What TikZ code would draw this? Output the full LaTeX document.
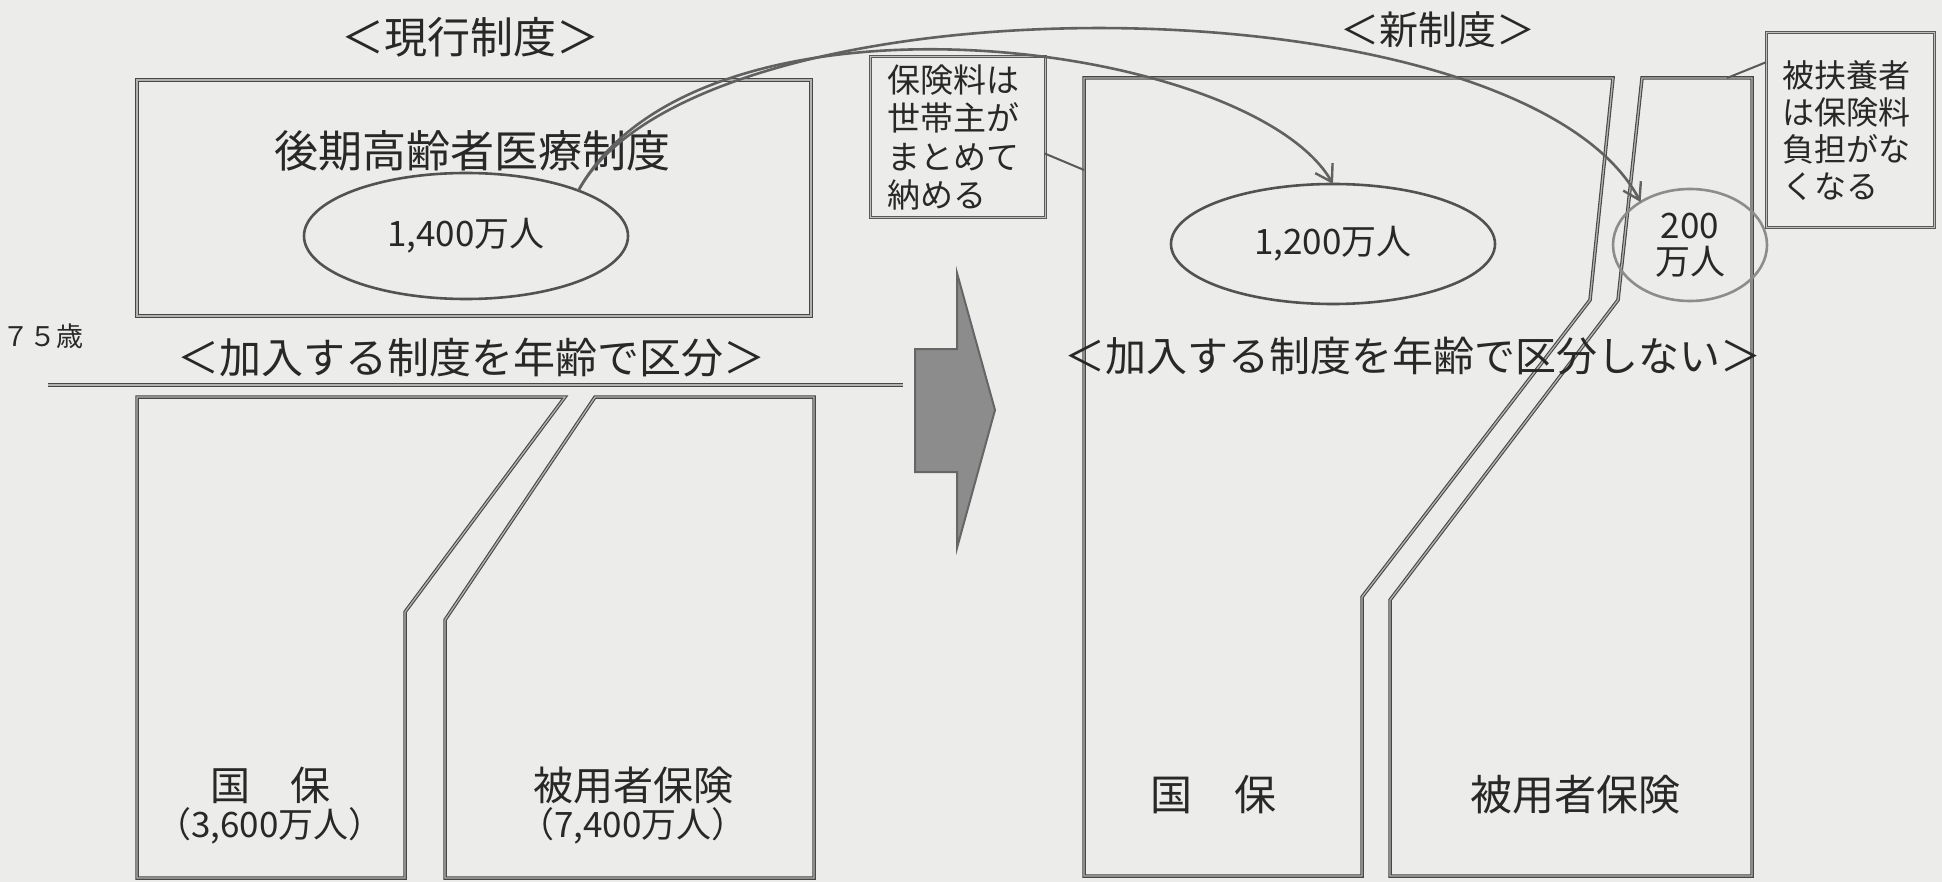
\documentclass[tikz,border=0pt]{standalone}
\usepackage{fontspec}
\newfontfamily\cjk{Noto Sans CJK JP}
\usetikzlibrary{shapes.geometric,arrows.meta,calc}
\definecolor{paper}{RGB}{236,236,234}
\definecolor{ink}{RGB}{40,40,40}
\begin{document}
\begin{tikzpicture}[x=1pt,y=-1pt,
  dl/.style={draw=black!72, line width=1.1pt, double=black!30, double distance=1.3pt, line join=miter},
  ell/.style={ellipse, draw=black!68, line width=2.6pt, inner sep=0pt, outer sep=0pt, text=ink},
  lbl/.style={text=ink, inner sep=0pt, outer sep=0pt},
  tbox/.style={draw=black!65, line width=1pt, double=black!25, double distance=1pt, text=ink, inner sep=0pt, outer sep=0pt, align=left},
  cur/.style={draw=black!62, line width=2.6pt, -{Straight Barb[length=16pt,width=20pt,line width=2.4pt]}},
  conn/.style={draw=black!65, line width=2pt},
  arrowbox/.style={draw=black!60, line width=2pt, fill=black!45},
  fA/.style={font=\cjk\fontsize{41}{48}\selectfont},
  fB/.style={font=\cjk\fontsize{44}{52}\selectfont},
  fC/.style={font=\cjk\fontsize{35}{40}\selectfont},
]
\fill[paper] (0,0) rectangle (1942,882);
\useasboundingbox (0,0) rectangle (1942,882);

% titles
\node[lbl,font=\cjk\fontsize{43}{48}\selectfont] (t1) at (470,37) {＜現行制度＞};
\node[lbl,font=\cjk\fontsize{39}{48}\selectfont] (t2) at (1438,30) {＜新制度＞};

% current system
\draw[dl] (137,80) rectangle (811,316);
\node[lbl,fB] (kouki) at (472,151) {後期高齢者医療制度};
\node[ell,fC,minimum width=324pt,minimum height=126pt] (e1) at (466,236) {1,400万人};

\node[lbl,anchor=west,font=\cjk\fontsize{27}{30}\selectfont] (age) at (2,336) {７５歳};
\node[lbl,font=\cjk\fontsize{42}{50}\selectfont] (kubun) at (471,358) {＜加入する制度を年齢で区分＞};
\coordinate (lineL) at (48,385);
\coordinate (lineR) at (903,385);
\draw[dl] (lineL) -- (lineR);

\draw[dl] (137,397) -- (565,397) -- (405,612) -- (405,878) -- (137,878) -- cycle;
\draw[dl] (595,397) -- (814,397) -- (814,878) -- (445,878) -- (445,620) -- cycle;
\node[lbl,font=\cjk\fontsize{40}{48}\selectfont] (kk1) at (270,785) {国　保};
\node[lbl,fC] (kk1n) at (270,826) {（3,600万人）};
\node[lbl,font=\cjk\fontsize{40}{48}\selectfont] (hh1) at (633,785) {被用者保険};
\node[lbl,fC] (hh1n) at (633,826) {（7,400万人）};

% big arrow
\draw[arrowbox] (915,349) -- (957,349) -- (957,273) -- (995,410) -- (957,548) -- (957,472) -- (915,472) -- cycle;

% new system
\draw[dl] (1084,78) -- (1613,78) -- (1590,300) -- (1362,597) -- (1362,876) -- (1084,876) -- cycle;
\draw[dl] (1642,78) -- (1752,78) -- (1752,876) -- (1390,876) -- (1390,600) -- (1618,300) -- cycle;
\node[ell,fC,minimum width=324pt,minimum height=120pt] (e2) at (1333,244) {1,200万人};
\node[ell,fC,draw=black!45,minimum width=154pt,minimum height=112pt,align=center] (e3) at (1690,245) {200\\[-4pt]万人};
\node[lbl,font=\cjk\fontsize{41}{50}\selectfont] (kubun2) at (1413,356) {＜加入する制度を年齢で区分しない＞};
\node[lbl,font=\cjk\fontsize{42}{50}\selectfont] (kk2) at (1213,795) {国　保};
\node[lbl,font=\cjk\fontsize{42}{50}\selectfont] (hh2) at (1575,795) {被用者保険};

% text boxes
\node[tbox,minimum width=175pt,minimum height=161pt,text width=140pt,font=\cjk\fontsize{33}{38.5}\selectfont] (box1) at (957.5,137.5) {保険料は\\世帯主が\\まとめて\\納める};
\node[tbox,minimum width=168pt,minimum height=195pt,text width=135pt,font=\cjk\fontsize{32}{37}\selectfont] (box2) at (1850,130.5) {被扶養者\\は保険料\\負担がな\\くなる};

\coordinate (pL) at (1084,170);
\coordinate (pR) at (1727,78);
\draw[conn] ($(box1.north east)!0.6!(box1.south east)$) -- (pL);
\draw[conn] ($(box2.north west)!0.15!(box2.south west)$) -- (pR);

% flow curves
\draw[cur] (e1.22) .. controls (700,-30) and (1520,-25) .. (e3.139);
\draw[cur] (e1.22) .. controls (700,-30) and (1250,40) .. (e2.north);
\end{tikzpicture}
\end{document}
